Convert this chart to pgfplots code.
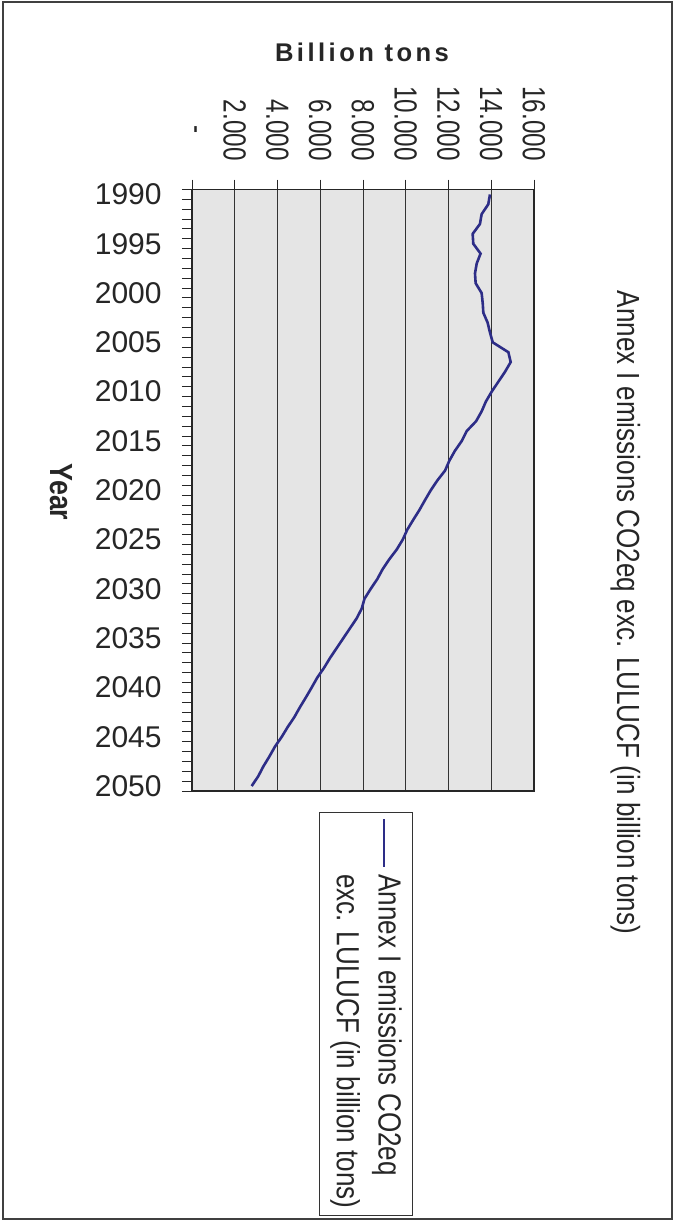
\documentclass[border=0pt]{standalone}
\usepackage{pgfplots}
\pgfplotsset{compat=1.18}
\usepackage{fontspec}
\setmainfont{Liberation Sans}
\newfontfamily\tickfont[FakeStretch=0.76]{Liberation Sans}
\newfontfamily\titlefont[FakeStretch=0.815]{Liberation Sans}
\newfontfamily\yearlabfont[FakeStretch=0.84]{Liberation Sans}
\newfontfamily\unitfont[LetterSpace=13.5]{Liberation Sans}
\definecolor{navy}{RGB}{45,45,135}
\definecolor{plotgray}{RGB}{229,229,229}

\pgfplotstableread{
year value
1990 13.94
1991 13.86
1992 13.55
1993 13.47
1994 13.13
1995 13.16
1996 13.50
1997 13.32
1998 13.24
1999 13.27
2000 13.55
2001 13.60
2002 13.63
2003 13.83
2004 13.94
2005 14.07
2006 14.80
2007 14.91
2008 14.64
2009 14.33
2010 14.02
2011 13.75
2012 13.55
2013 13.29
2014 12.85
2015 12.62
2016 12.30
2017 12.04
2018 11.84
2019 11.48
2020 11.17
2021 10.90
2022 10.64
2023 10.35
2024 10.07
2025 9.86
2026 9.58
2027 9.23
2028 8.92
2029 8.67
2030 8.36
2031 8.07
2032 7.94
2033 7.70
2034 7.39
2035 7.08
2036 6.77
2037 6.46
2038 6.18
2039 5.86
2040 5.60
2041 5.33
2042 5.05
2043 4.79
2044 4.48
2045 4.20
2046 3.88
2047 3.62
2048 3.34
2049 3.10
2050 2.79
}\emissions

\begin{document}
\begin{tikzpicture}
\useasboundingbox (0,0) rectangle (339pt,-610.5pt);
\draw[black!75, line width=0.9pt] (1.5pt,-1pt) rectangle (336pt,-609.5pt);
\begin{axis}[
  at={(181.5pt,-245.125pt)}, anchor=center,
  scale only axis, width=171pt, height=300.75pt,
  xmin=0, xmax=16, ymin=1989.5, ymax=2050.5, y dir=reverse,
  axis background/.style={fill=plotgray},
  axis line style={black!85, line width=0.6pt},
  xtick={0,2,...,16},
  xticklabels={-\hphantom{00},2.000,4.000,6.000,8.000,10.000,12.000,14.000,16.000},
  xtick pos=right, xticklabel pos=right,
  xticklabel style={rotate=-90, anchor=east, inner sep=0pt,
    font=\tickfont\fontsize{16pt}{19pt}\selectfont, text=black!85},
  xticklabel shift=9.25pt,
  ytick={1990,1995,...,2050},
  yticklabels={1990,1995,2000,2005,2010,2015,2020,2025,2030,2035,2040,2045,2050},
  minor ytick={1989.5,1990.5,...,2050.5},
  ytick pos=left,
  yticklabel style={anchor=east, inner sep=0pt, xshift=-10pt,
    font=\fontsize{15pt}{18pt}\selectfont, text=black!85},
  tick align=outside,
  major tick length=5pt, minor tick length=5pt,
  major y tick style={draw=none},
  tick style={black!85, line width=0.5pt},
  xmajorgrids, grid style={black!80, line width=0.5pt},
]
\addplot[navy, line width=1.3pt] table[x=value, y=year] {\emissions};
\end{axis}
\node[anchor=base, font=\unitfont\bfseries\fontsize{12.8pt}{15pt}\selectfont, text=black!85]
  at (181pt,-30.8pt) {Billion tons};
\node[anchor=base, rotate=-90, font=\yearlabfont\bfseries\fontsize{16pt}{19pt}\selectfont, text=black!85]
  at (25pt,-246pt) {Year};
\node[anchor=base, rotate=-90, font=\titlefont\fontsize{16pt}{19pt}\selectfont, text=black!85]
  at (308.5pt,-306.25pt) {Annex I emissions CO2eq exc. LULUCF (in billion tons)};
% legend, turned like the rest of the chart
\node[rotate=-90, draw=black!80, line width=0.5pt, fill=white, align=left,
  inner xsep=3.5pt, inner ysep=5.5pt, text=black!85,
  font=\titlefont\fontsize{16pt}{20.85pt}\selectfont]
  at (183pt,-507pt)
  {\textcolor{navy}{\rule[2.0pt]{24pt}{1.3pt}}\hspace{3.5pt}Annex I emissions CO2eq\\
   \hspace{27.5pt}exc. LULUCF (in billion tons)};
\end{tikzpicture}
\end{document}
